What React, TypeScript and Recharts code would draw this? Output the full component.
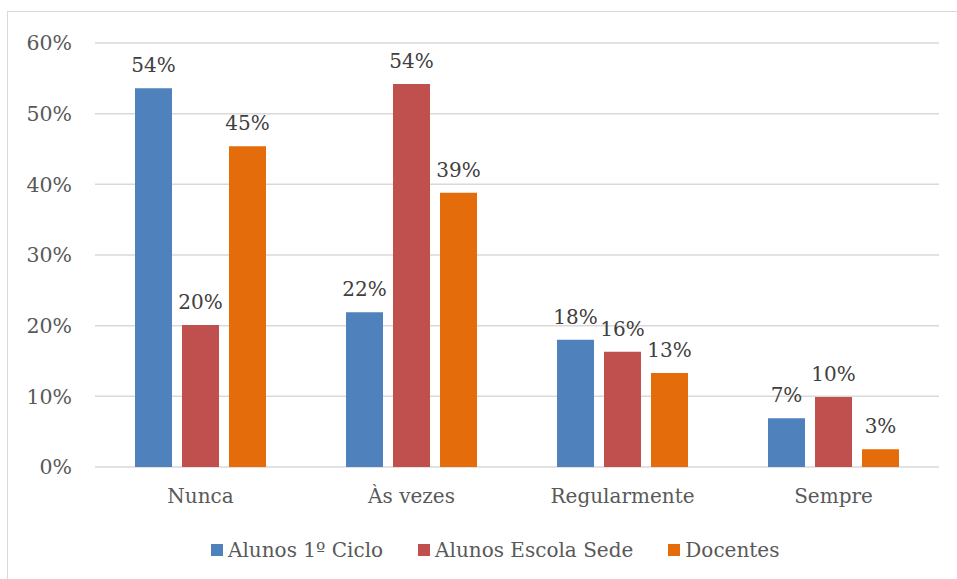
import React from "react";
import { BarChart, Bar, XAxis, YAxis, CartesianGrid, LabelList } from "recharts";

const categories = ["Nunca", "Às vezes", "Regularmente", "Sempre"];
const alunos1Ciclo = [0.536, 0.219, 0.18, 0.069];
const alunosEscolaSede = [0.201, 0.542, 0.163, 0.099];
const docentes = [0.454, 0.388, 0.133, 0.025];
const yTicks = [0, 0.1, 0.2, 0.3, 0.4, 0.5, 0.6];

const series = [
  { key: "a1", name: "Alunos 1º Ciclo", color: "#4F81BD", values: alunos1Ciclo },
  { key: "aes", name: "Alunos Escola Sede", color: "#C0504D", values: alunosEscolaSede },
  { key: "doc", name: "Docentes", color: "#E46C0A", values: docentes },
];

const rows = categories.map((cat, i) => {
  const row: Record<string, string | number> = { cat };
  series.forEach((s) => {
    row[s.key] = s.values[i];
  });
  return row;
});

const FONT = "'DejaVu Serif', serif";
const pct = (v: number) => `${Math.round(v * 100)}%`;

export default function App() {
  return (
    <div style={{ position: "absolute", left: 0, top: 0, width: 957, height: 579, background: "#fff", fontFamily: FONT }}>
      {/* chart frame, only the top and left edges fall inside the page */}
      <div
        style={{
          position: "absolute",
          left: 7,
          top: 11,
          width: 960,
          height: 580,
          borderTop: "1.5px solid #D9D9D9",
          borderLeft: "1.5px solid #D9D9D9",
        }}
      />
      <BarChart
        width={957}
        height={579}
        data={rows}
        margin={{ top: 43, right: 18, bottom: 82, left: 0 }}
        barSize={37}
        barGap={10}
        style={{ position: "absolute", left: 0, top: 0 }}
      >
        <CartesianGrid vertical={false} stroke="#D9D9D9" strokeWidth={1.5} />
        <XAxis
          dataKey="cat"
          axisLine={false}
          tickLine={false}
          tickSize={0}
          tickMargin={22}
          height={30}
          tick={{ fill: "#595959", fontSize: 20, fontFamily: FONT }}
        />
        <YAxis
          width={95}
          domain={[0, 0.6]}
          ticks={yTicks}
          tickFormatter={pct}
          axisLine={false}
          tickLine={false}
          tickSize={0}
          tickMargin={23}
          tick={{ fill: "#595959", fontSize: 20.5, fontFamily: FONT }}
        />
        {series.map((s) => (
          <Bar key={s.key} dataKey={s.key} name={s.name} fill={s.color} isAnimationActive={false}>
            <LabelList
              dataKey={s.key}
              position="top"
              offset={16}
              formatter={(v: number) => pct(v)}
              style={{ fill: "#404040", fontSize: 20, fontFamily: FONT }}
            />
          </Bar>
        ))}
      </BarChart>
      {/* legend row */}
      <div
        style={{
          position: "absolute",
          left: 211,
          top: 538,
          display: "flex",
          gap: 35,
          fontSize: 20,
          color: "#595959",
          lineHeight: "24px",
          whiteSpace: "nowrap",
        }}
      >
        {series.map((s) => (
          <div key={s.key} style={{ display: "flex", alignItems: "center" }}>
            <span style={{ width: 12, height: 12, background: s.color, marginRight: 5, display: "inline-block" }} />
            <span>{s.name}</span>
          </div>
        ))}
      </div>
    </div>
  );
}
